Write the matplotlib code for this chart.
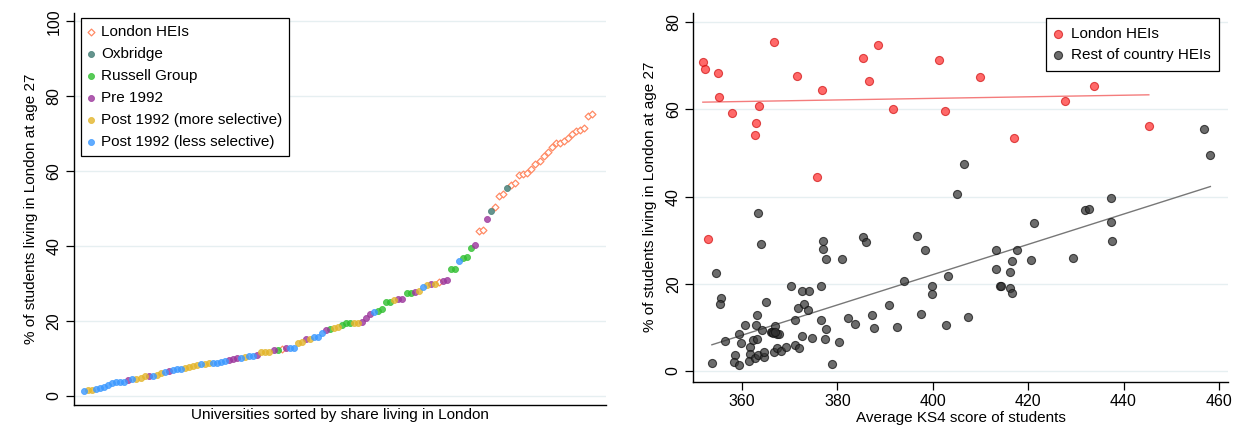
import numpy as np
import matplotlib
matplotlib.use('Agg')
import matplotlib.pyplot as plt

plt.rcParams['font.family'] = ['Liberation Sans', 'DejaVu Sans']

# left panel: universities in rank order, group code and share living in London
# L London, O Oxbridge, R Russell Group, P Pre 1992, M Post 1992 more sel., S Post 1992 less sel.
rank_groups = list(
    'SMMSSSSSSSSPSMMMPSMMSPSSSMMMMSMMSSSSPPPSMSSP'
    'MMMPRLPSSMMPMSSSPRMMRRRMMPPPSRRRRMPPRRPMSM'
    'PMLPPRRSRRRPLLPOLLLOLLL'
    'LLLLLLLLLLLLLLLLLL'
)
rank_share = [
    1.4, 1.6, 1.6, 1.8, 2.1, 2.5, 2.9, 3.4, 3.6, 3.7, 3.8, 4.2, 4.4, 4.6, 4.9,
    5.2, 5.3, 5.4, 5.7, 6.0, 6.4, 6.7, 7.0, 7.1, 7.2, 7.4, 7.7, 8.0, 8.3, 8.5,
    8.6, 8.8, 8.9, 8.9, 9.0, 9.3, 9.7, 9.9, 10.0, 10.2, 10.5, 10.7, 10.7, 10.8,
    11.6, 11.6, 11.7, 12.2, 12.3, 12.5, 12.8, 12.9, 12.9, 14.0, 14.3, 15.1,
    15.3, 15.6, 15.8, 16.7, 17.6, 17.9, 18.2, 18.3, 18.9, 19.4, 19.5, 19.5,
    19.5, 19.6, 20.8, 21.8, 22.4, 22.8, 23.2, 25.1, 25.2, 25.6, 25.9, 25.9,
    27.6, 27.6, 27.7, 28.1, 29.2, 29.7,
    29.8, 29.8, 30.3, 30.8, 30.9, 33.8, 34.0, 36.1, 36.8, 37.2, 39.6, 40.4,
    44.1, 44.4, 47.2, 49.3, 50.5, 53.3, 53.9, 55.4, 56.3, 56.7, 59.0,
    59.3, 59.6, 60.6, 61.9, 62.7, 64.1, 65.2, 66.5, 67.4, 67.6, 68.0, 68.9,
    70.0, 70.8, 71.0, 71.6, 74.7, 75.2,
]
group_names = {
    'L': 'London HEIs',
    'O': 'Oxbridge',
    'R': 'Russell Group',
    'P': 'Pre 1992',
    'M': 'Post 1992 (more selective)',
    'S': 'Post 1992 (less selective)',
}
group_colors = {
    'L': '#ff8a64',
    'O': '#3f7a72',
    'R': '#2fbf2f',
    'P': '#9b359b',
    'M': '#e3b52a',
    'S': '#3a98ff',
}

# right panel: KS4 score vs share living in London
london_ks4 = [351.8, 352.2, 355.0, 355.2, 357.9, 363.6, 362.9, 362.7, 366.7,
              371.5, 375.7, 376.7, 385.3, 386.6, 388.5, 391.6, 401.3, 402.6,
              410.0, 417.0, 427.7, 433.9, 445.3, 352.9]
london_share = [70.9, 69.3, 68.3, 62.9, 59.2, 60.8, 56.8, 54.1, 75.5,
                67.7, 44.6, 64.4, 71.7, 66.6, 74.8, 60.2, 71.4, 59.7,
                67.4, 53.5, 61.9, 65.4, 56.3, 30.4]

rest_ks4 = [363.4, 364.0, 354.5, 355.7, 355.4, 353.7, 365.0, 363.2, 356.4, 359.4,
            359.7, 360.7, 358.6, 358.3, 359.4, 361.7, 361.7, 361.4, 362.8, 362.4,
            363.1, 362.9, 364.2, 363.4, 364.6, 364.7, 366.0, 366.9, 366.4, 367.3,
            367.7, 366.8, 367.3, 368.2, 369.2, 370.3, 371.2, 371.9, 371.2, 371.8,
            372.5, 373.1, 373.8, 374.1, 372.6, 374.7, 376.6, 376.5, 377.0, 377.0,
            377.7, 377.6, 377.4, 378.8, 380.3, 380.9, 382.3, 383.7, 385.3, 386.0,
            387.2, 387.7, 390.8, 392.5, 393.9, 396.6, 398.4, 397.5, 399.8, 399.9,
            403.2, 402.8, 407.3, 413.3, 413.2, 414.2, 414.4, 416.3, 416.7, 417.7,
            416.1, 416.7, 420.7, 421.2, 429.5, 432.0, 432.7, 437.4, 437.5, 437.3,
            406.6, 405.0, 456.8, 458.2, 366.6, 367.0]
rest_share = [36.2, 29.2, 22.5, 16.8, 15.4, 1.8, 15.8, 12.8, 7.0, 8.6,
              6.4, 10.6, 3.7, 2.1, 1.4, 5.4, 3.8, 2.4, 2.9, 7.1,
              7.4, 10.6, 9.4, 3.7, 3.3, 4.4, 9.0, 10.4, 8.9, 8.6,
              8.5, 4.3, 5.2, 4.6, 5.6, 19.6, 6.0, 5.3, 11.7, 14.4,
              18.3, 15.3, 14.0, 18.3, 8.0, 7.6, 19.6, 11.8, 29.9, 28.1,
              25.8, 9.7, 7.3, 1.5, 6.7, 25.7, 12.2, 10.7, 30.8, 29.7,
              12.8, 9.9, 15.1, 10.1, 20.7, 31.0, 27.8, 13.0, 19.6, 17.7,
              21.9, 10.6, 12.4, 27.7, 23.3, 19.6, 19.5, 22.7, 25.2, 27.8,
              19.0, 18.0, 25.4, 33.9, 25.9, 36.9, 37.2, 34.1, 29.8, 39.7,
              47.4, 40.5, 55.6, 49.5, 8.8, 8.9]

W, H = 1238, 441
fig = plt.figure(figsize=(W / 100, H / 100), dpi=100)
grid_color = '#e6eff1'

# ---- left panel
ax1 = fig.add_axes([74 / W, (H - 405.3) / H, (606 - 74) / W, (405.3 - 13) / H])
ranks = np.arange(1, len(rank_share) + 1)
codes = np.array(rank_groups)
shares = np.array(rank_share)
for code in 'LORPMS':
    sel = codes == code
    if code == 'L':
        ax1.scatter(ranks[sel], shares[sel], s=12, marker='D', facecolors='white',
                    edgecolors=group_colors[code], linewidths=0.9,
                    label=group_names[code], zorder=3)
    else:
        ax1.scatter(ranks[sel], shares[sel], s=19, marker='o',
                    color=group_colors[code], alpha=0.8, linewidths=0.6,
                    label=group_names[code], zorder=3)
ax1.set_xlim(-1.5, 130.5)
ax1.set_ylim(-2.5, 102.2)
ax1.set_yticks(np.arange(0, 101, 20))
ax1.set_xticks([])
ax1.set_xlabel('Universities sorted by share living in London', fontsize=11, labelpad=2)
ax1.set_ylabel('% of students living in London at age 27', fontsize=11, labelpad=6)
leg1 = ax1.legend(loc='upper left', bbox_to_anchor=(80.7 / W, 1 - 18.3 / H),
                  bbox_transform=fig.transFigure, fontsize=11, frameon=True,
                  fancybox=False, edgecolor='black', framealpha=1, borderaxespad=0,
                  handlelength=0.4, handletextpad=0.5, labelspacing=0.52,
                  borderpad=0.45, scatterpoints=1)
leg1.get_frame().set_linewidth(0.9)

# ---- right panel
ax2 = fig.add_axes([693.3 / W, (H - 381.7) / H, (1228 - 693.3) / W, (381.7 - 12.7) / H])
ax2.scatter(london_ks4, london_share, s=34, color='#ff2a2a', alpha=0.7,
            edgecolors='#d01010', linewidths=0.8, label='London HEIs', zorder=3)
ax2.scatter(rest_ks4, rest_share, s=34, color='#333333', alpha=0.72,
            edgecolors='#111111', linewidths=0.8, label='Rest of country HEIs', zorder=3)
for xs, ys, lc in [(london_ks4, london_share, '#f47c7c'), (rest_ks4, rest_share, '#777777')]:
    b, a = np.polyfit(xs, ys, 1)
    xx = np.array([min(xs), max(xs)])
    ax2.plot(xx, a + b * xx, color=lc, lw=1.0, zorder=2)
ax2.set_xlim(349.8, 461.9)
ax2.set_ylim(-2.45, 82.2)
ax2.set_xticks(np.arange(360, 461, 20))
ax2.set_yticks(np.arange(0, 81, 20))
ax2.set_xlabel('Average KS4 score of students', fontsize=11, labelpad=1)
ax2.set_ylabel('% of students living in London at age 27', fontsize=11, labelpad=6)
leg2 = ax2.legend(loc='upper left', bbox_to_anchor=(1045.7 / W, 1 - 18.3 / H),
                  bbox_transform=fig.transFigure, fontsize=11, frameon=True,
                  fancybox=False, edgecolor='black', framealpha=1, borderaxespad=0,
                  handlelength=0.5, handletextpad=0.6, labelspacing=0.5,
                  borderpad=0.55, scatterpoints=1)
leg2.get_frame().set_linewidth(0.9)

for ax in (ax1, ax2):
    for side in ('top', 'right'):
        ax.spines[side].set_visible(False)
    for side in ('left', 'bottom'):
        ax.spines[side].set_linewidth(1.0)
    ax.yaxis.grid(True, color=grid_color, lw=1.0)
    ax.set_axisbelow(True)
    ax.tick_params(axis='both', length=6, width=0.9, labelsize=11.5, pad=3)
    for lab in ax.get_yticklabels():
        lab.set_rotation(90)
        lab.set_va('center')

fig.savefig('out.png', dpi=100)
